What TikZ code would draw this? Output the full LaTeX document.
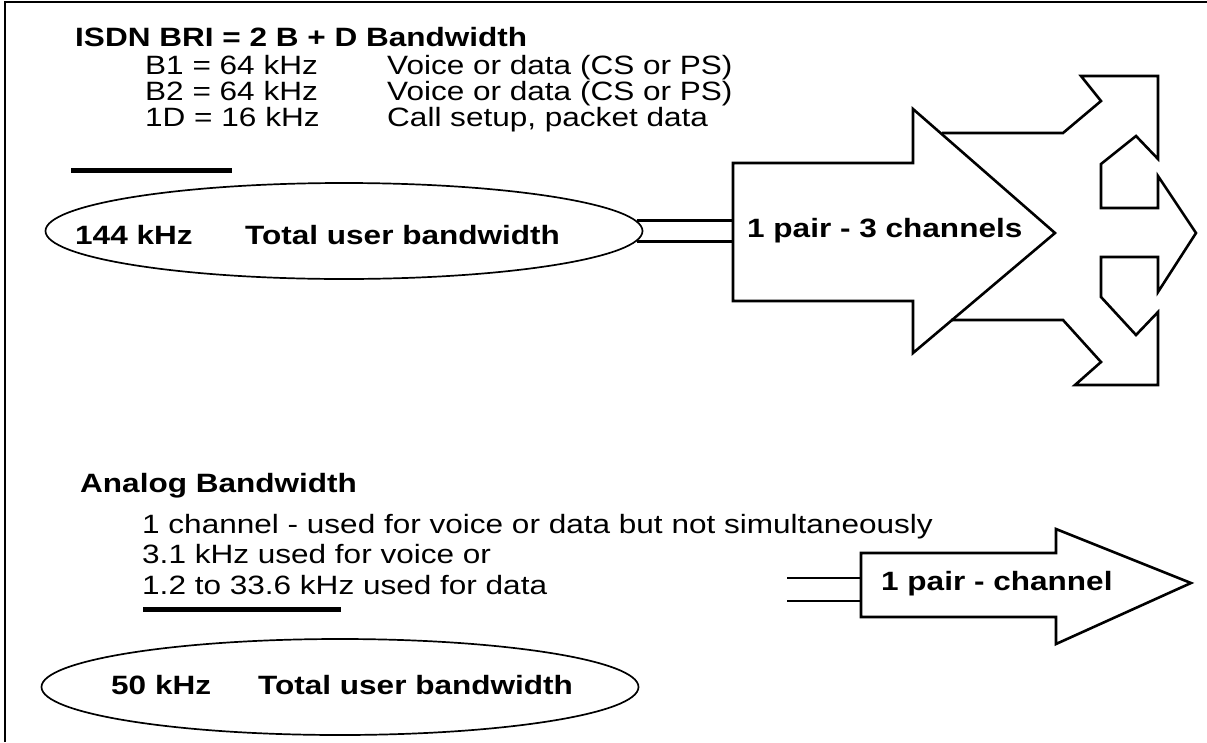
\documentclass[tikz,border=0pt]{standalone}
\usepackage{fontspec}
\setmainfont{Liberation Sans}[FakeStretch=1.19]
\usetikzlibrary{shapes.geometric}

\begin{document}
\begin{tikzpicture}[x=1pt,y=-1pt,
    body/.style={anchor=base west, inner sep=0pt, font=\fontsize{26.5}{26.5}\selectfont},
    head/.style={body, font=\fontsize{26.5}{26.5}\selectfont\bfseries},
    outline/.style={draw, line width=2.6pt, line join=miter},
    wire/.style={draw, line width=2.6pt},
    oval/.style={draw, ellipse, line width=1.7pt, inner sep=0pt,
                 minimum width=597pt, minimum height=96pt}]
  \useasboundingbox (0,0) rectangle (1207,742);
  % Frame (top and left only)
  \draw[line width=2pt] (5,742) -- (5,2) -- (1207,2);

  % Top: ISDN
  \node[head] (isdntitle) at (75,46) {ISDN BRI = 2 B + D Bandwidth};
  \node[body] (bone) at (145,74) {B1 = 64 kHz};
  \node[body] (btwo) at (145,100) {B2 = 64 kHz};
  \node[body] (dchan) at (145,126) {1D = 16 kHz};
  \node[body] (bonetxt) at (387,74) {Voice or data (CS or PS)};
  \node[body] (btwotxt) at (387,100) {Voice or data (CS or PS)};
  \node[body] (dchantxt) at (387,126) {Call setup, packet data};
  \draw[line width=5pt] (71,170) -- (232,170);
  % Oval
  \node[oval] (isdnoval) at (344,231) {};
  \node[head] (isdnrate) at (75,244) {144 kHz};
  \node[head] (isdnuser) at (245,244) {Total user bandwidth};
  % Big arrow
  \draw[outline] (733,163) coordinate (bigtop) -- (913,163) -- (913,109)
    -- (1055,233) coordinate (bigtip) -- (913,353) -- (913,301) -- (733,301) -- cycle;
  \node[head] (bigtxt) at (747,237) {1 pair - 3 channels};
  \draw[wire] (isdnoval.2.4) -- (isdnoval.2.4 -| bigtop);
  \draw[wire] (isdnoval.-2.4) -- (isdnoval.-2.4 -| bigtop);
  % Three channel arrows
  \draw[outline] (942,133) -- (1063,133) -- (1101,101) -- (1081,76) -- (1158,76)
    -- (1158,159) -- (1136,136) -- (1101,164) -- (1101,208) -- (1158,208)
    -- (1158,176) -- (1196,233) -- (1158,292) -- (1158,257) -- (1101,257)
    -- (1101,297) -- (1136,335) -- (1158,312) -- (1158,385) -- (1075,385)
    -- (1101,362) -- (1063,320) -- (951,320);

  % Bottom: Analog
  \node[head] (analogtitle) at (80,492) {Analog Bandwidth};
  \node[body] (anone) at (142,533) {1 channel - used for voice or data but not simultaneously};
  \node[body] (antwo) at (142,563) {3.1 kHz used for voice or};
  \node[body] (anthree) at (142,594) {1.2 to 33.6 kHz used for data};
  \draw[line width=5pt] (143,609) -- (341,609);
  % Oval
  \node[oval] (analogoval) at (340,687) {};
  \node[head] (analograte) at (111,694) {50 kHz};
  \node[head] (analoguser) at (258,694) {Total user bandwidth};
  % Small arrow
  \draw[outline] (861,553) coordinate (smalltop) -- (1056,553) -- (1056,529)
    -- (1191,583) -- (1056,644) -- (1056,617) -- (861,617) -- cycle;
  \node[head] (smalltxt) at (881,590) {1 pair - channel};
  \coordinate (looseA) at (787,578);
  \coordinate (looseB) at (787,601);
  \draw[wire] (looseA) -- (looseA -| smalltop);
  \draw[wire] (looseB) -- (looseB -| smalltop);
\end{tikzpicture}
\end{document}
